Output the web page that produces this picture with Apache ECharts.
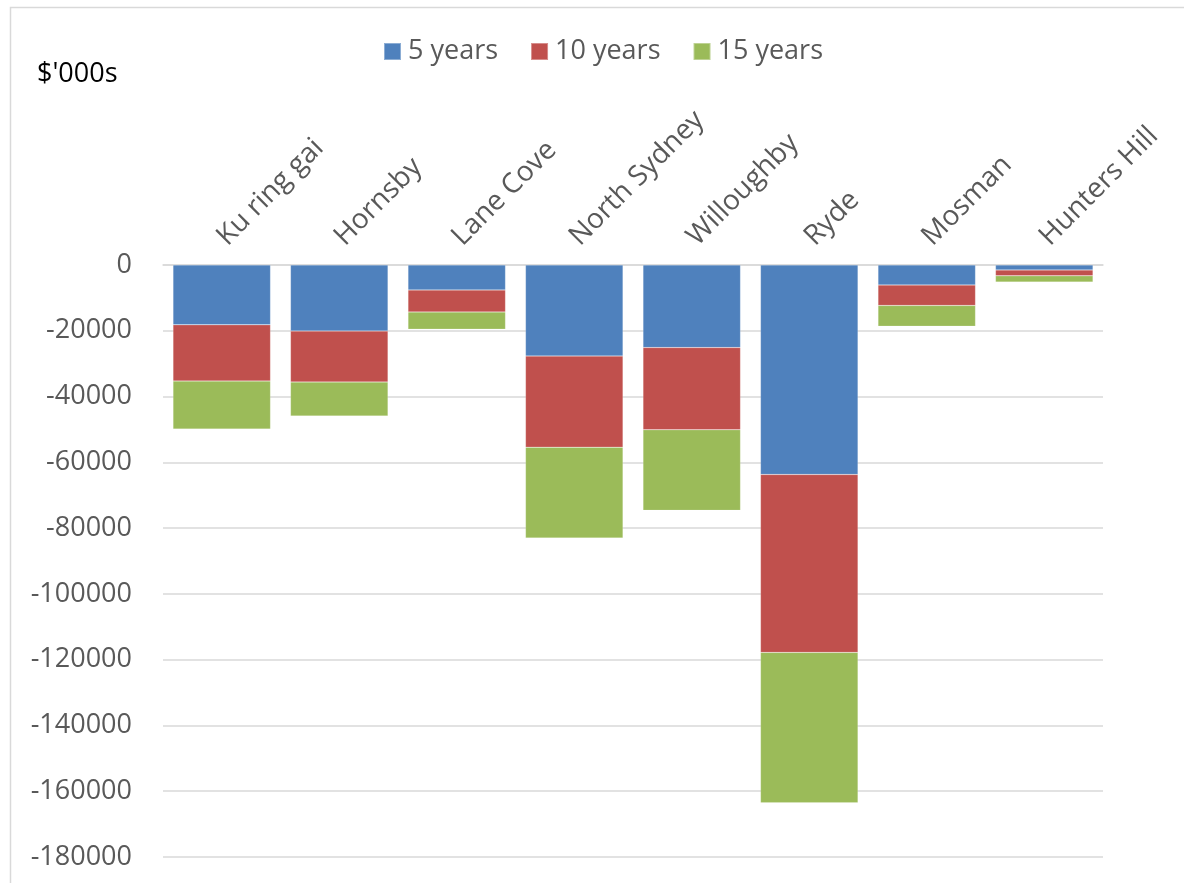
<!DOCTYPE html>
<html>
<head>
<meta charset="utf-8">
<script src="https://cdn.jsdelivr.net/npm/echarts@6/dist/echarts.min.js"></script>
<style>html,body{margin:0;padding:0;background:#fff;}#c{width:1184px;height:883px;}</style>
</head>
<body>
<div id="c"></div>
<script>
const categories = ["Ku ring gai", "Hornsby", "Lane Cove", "North Sydney", "Willoughby", "Ryde", "Mosman", "Hunters Hill"];
const seriesNames = ["5 years", "10 years", "15 years"];
const years5 = [-18200, -20100, -7600, -27700, -25100, -63700, -6100, -1500];
const years10 = [-17100, -15500, -6700, -27700, -25000, -54100, -6200, -1800];
const years15 = [-14600, -10300, -5200, -27600, -24500, -45700, -6300, -1900];
const colors = ["#4f81bd", "#c0504d", "#9bbb59"];
const yMin = -180000, yMax = 0, yStep = 20000;
const unitLabel = "$'000s";

const font = "'Open Sans', 'Noto Sans', sans-serif";
const chart = echarts.init(document.getElementById('c'));
const dataSets = [years5, years10, years15];
chart.setOption({
  animation: false,
  color: colors,
  textStyle: { fontFamily: font },
  graphic: [
    { type: 'rect', left: 8, top: 5, shape: { width: 1300, height: 1000 }, style: { fill: 'none', stroke: '#d9d9d9', lineWidth: 1.5 }, silent: true },
    { type: 'text', left: 37, top: 61, style: { text: unitLabel, fontFamily: font, fontSize: 27, fill: '#000' } }
  ],
  legend: {
    left: 378, top: 33,
    itemWidth: 17, itemHeight: 17, itemGap: 32,
    icon: 'rect',
    textStyle: { fontSize: 27, color: '#595959', fontFamily: font, padding: [0, 0, 0, 2] },
    data: seriesNames
  },
  grid: { left: 163, right: 81, top: 265, bottom: 26, containLabel: false },
  xAxis: {
    type: 'category', position: 'top', data: categories,
    axisLine: { lineStyle: { color: '#d9d9d9', width: 1.5 } },
    axisTick: { inside: true, length: 8, lineStyle: { color: '#d9d9d9', width: 1.5 } },
    axisLabel: { rotate: 45, fontSize: 28, color: '#595959', margin: 24, interval: 0, fontFamily: font }
  },
  yAxis: {
    type: 'value', min: yMin, max: yMax, interval: yStep,
    axisLine: { show: false }, axisTick: { show: false },
    splitLine: { lineStyle: { color: '#d9d9d9', width: 1.5 } },
    axisLabel: { fontSize: 27, color: '#595959', margin: 31, fontFamily: font, formatter: v => String(v) }
  },
  series: seriesNames.map((n, i) => ({
    name: n, type: 'bar', stack: 'total', data: dataSets[i],
    barCategoryGap: '17%',
    itemStyle: { color: colors[i], borderColor: 'rgba(255,255,255,0.35)', borderWidth: 0.5 }
  }))
});
</script>
</body>
</html>
